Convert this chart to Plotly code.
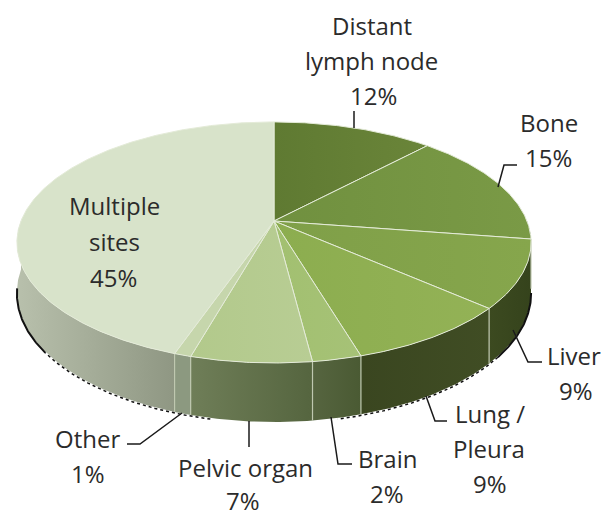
import numpy as np
import plotly.graph_objects as go

categories = ["Distant lymph node", "Bone", "Liver", "Lung / Pleura", "Brain", "Pelvic organ", "Other", "Multiple sites"]
values = [12.0, 15.4, 9.1, 8.9, 2.6, 6.4, 0.9, 44.7]
percent_labels = ["12%", "15%", "9%", "9%", "2%", "7%", "1%", "45%"]

# style
top_grad = [("#5F7A32", "#6A8539"), ("#70903F", "#7A9A46"), ("#7F9F48", "#86A64C"), ("#8CAD4F", "#93B256"),
            ("#A2C070", "#A6C277"), ("#B2C98B", "#B8CD94"), ("#C6D6AC", "#C6D6AC"), ("#D8E3CA", "#D8E3CA")]
side_grad = [("#3A4A1E", "#3A4A1E"), ("#3A4A1E", "#3A4A1E"), ("#3C4A20", "#35431C"), ("#3A4620", "#404D24"),
             ("#566540", "#4A5A33"), ("#6F7E58", "#55653F"), ("#8C9980", "#8C9980"), ("#B8C0AC", "#8F9783")]
EDGE = "#E4EBD8"
TXT = "#2B2B2B"
FONT = "Open Sans"
FS = 24

# projection of the tilted disc
CX, CY, A, B, K, D = 274, 221, 253, 116.7, 0.178, 48.5


def proj(theta_deg, drop=0.0):
    t = np.radians(theta_deg)
    u, v = np.sin(t), np.cos(t)
    w = 1 + K * v
    return CX + A * u / w, CY - B * v / w + drop * D / w


def arc(a, b, drop=0.0):
    n = max(int(abs(b - a) * 2), 2)
    return proj(np.linspace(a, b, n), drop)


def grad(c1, c2):
    return dict(type="horizontal", colorscale=[[0, c1], [1, c2]])


fig = go.Figure()
edges = np.concatenate([[0], np.cumsum(values)]) * 3.6 / (sum(values) / 100)

# side walls
for i in range(len(values)):
    a, b = max(edges[i], 90), min(edges[i + 1], 270)
    if b <= a:
        continue
    x1, y1 = arc(a, b)
    x2, y2 = arc(b, a, 1.0)
    fig.add_trace(go.Scatter(x=np.r_[x1, x2, x1[0]], y=np.r_[y1, y2, y1[0]], mode="lines", fill="toself",
                             line=dict(width=0), fillgradient=grad(*side_grad[i]),
                             hoverinfo="skip", showlegend=False))

# boundaries on the side wall
for e in edges[2:-1]:
    x1, y1 = proj(e)
    x2, y2 = proj(e, 1.0)
    fig.add_trace(go.Scatter(x=[x1, x2], y=[y1, y2], mode="lines", line=dict(color="#BFC8B0", width=1.2),
                             hoverinfo="skip", showlegend=False))

# dark rim below the wall
for (a, b, dash, w) in [(100, 128, "solid", 2), (128, 168, "dot", 1.5), (192, 234, "dot", 1.5), (234, 262, "solid", 2)]:
    x, y = arc(a, b, 1.02)
    fig.add_trace(go.Scatter(x=x, y=y, mode="lines", line=dict(color="#111111", width=w, dash=dash),
                             hoverinfo="skip", showlegend=False))

# top slices
for i in range(len(values)):
    x1, y1 = arc(edges[i], edges[i + 1])
    xs = np.r_[CX, x1, CX]
    ys = np.r_[CY, y1, CY]
    fig.add_trace(go.Scatter(x=xs, y=ys, mode="lines", fill="toself", line=dict(color=EDGE, width=1),
                             fillgradient=grad(*top_grad[i]), name=categories[i], hoverinfo="name", showlegend=False))

# leader lines
leaders = [
    ([354, 354], [111, 128]),
    ([498, 504, 517], [187, 165, 165]),
    ([513, 528, 542], [330, 362, 362]),
    ([426, 435, 447], [396, 421, 421]),
    ([331, 338, 352], [417, 464, 464]),
    ([249, 249], [421, 447]),
    ([182, 140, 127], [413, 444, 444]),
]
for lx, ly in leaders:
    fig.add_trace(go.Scatter(x=lx, y=ly, mode="lines", line=dict(color="#1A1A1A", width=1.5),
                             hoverinfo="skip", showlegend=False))

# labels: one annotation per text line
label_lines = [
    (["Distant", "lymph node"], [(372, 25), (371, 60)], (373, 95)),
    (["Bone"], [(549, 122)], (548, 157)),
    (["Liver"], [(574, 355)], (576, 390)),
    (["Lung /", "Pleura"], [(490, 413), (489, 448)], (490, 483)),
    (["Brain"], [(387, 458)], (387, 493)),
    (["Pelvic organ"], [(245, 467)], (243, 500)),
    (["Other"], [(87, 438)], (88, 473)),
    (["Multiple", "sites"], [(114, 205), (114, 241)], (113, 277)),
]
annotations = []
for (lines, pos, pct_pos), pct in zip(label_lines, percent_labels):
    for s, (x, y) in zip(list(lines) + [pct], list(pos) + [pct_pos]):
        annotations.append(dict(x=x, y=y, text=s, showarrow=False, xanchor="center", yanchor="middle",
                                font=dict(family=FONT, size=FS, color=TXT)))

fig.update_layout(
    width=606, height=517, margin=dict(l=0, r=0, t=0, b=0),
    paper_bgcolor="white", plot_bgcolor="white", showlegend=False, annotations=annotations,
    xaxis=dict(range=[0, 606], visible=False, fixedrange=True),
    yaxis=dict(range=[517, 0], visible=False, fixedrange=True),
)
fig.write_html("out.html", config=dict(displayModeBar=False),
               post_script="document.body.style.margin='0';document.documentElement.style.overflow='hidden';")
